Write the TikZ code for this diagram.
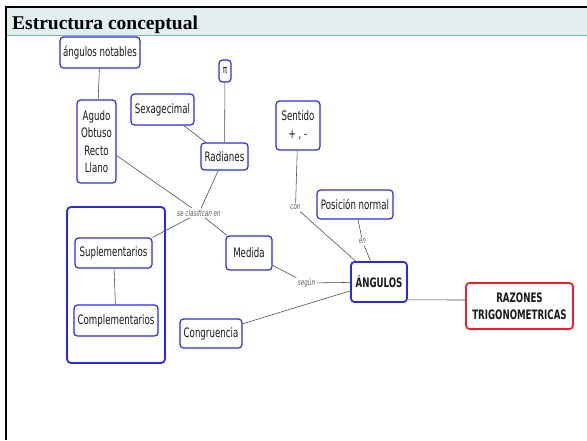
\documentclass[tikz,border=0pt]{standalone}
\usepackage{fontspec}
\setmainfont{Liberation Serif}
\newfontfamily\mapfont{DejaVu Sans Condensed}[FakeStretch=0.74]
\definecolor{mapblue}{RGB}{40,40,240}
\definecolor{mapred}{RGB}{240,30,40}
\definecolor{headfill}{RGB}{226,239,238}
\definecolor{headline}{RGB}{125,180,172}
\definecolor{linkgray}{RGB}{70,70,70}
\definecolor{textgray}{RGB}{25,25,25}
\tikzset{
  concept/.style={draw=mapblue, line width=1.2pt, rounded corners=3.5pt, fill=white,
    font=\mapfont\fontsize{13}{17.5}\selectfont, text=textgray, align=center,
    inner sep=0pt, anchor=center},
  keyconcept/.style={concept, line width=1.8pt, font=\mapfont\bfseries\fontsize{13}{17}\selectfont},
  redconcept/.style={keyconcept, draw=mapred},
  linkword/.style={font=\mapfont\itshape\fontsize{8.5}{9}\selectfont, text=linkgray!90, inner sep=1.5pt},
  link/.style={draw=linkgray, line width=0.55pt},
}
\begin{document}
\begin{tikzpicture}[x=1pt, y=-1pt]
\useasboundingbox (0,0) rectangle (587,440);
% header band and frame
\fill[headfill] (6,7) rectangle (587,35);
\draw[headline, line width=0.8pt] (6,35) -- (587,35);
\draw[black, line width=2pt] (6,440) -- (6,7) -- (587,7);
\node[anchor=base west, font=\bfseries\fontsize{19.5}{22}\selectfont, inner sep=0pt] (title) at (12,29) {Estructura conceptual};

% group box around the two complementary kinds
\node[draw=mapblue, line width=1.8pt, rounded corners=4pt, minimum width=98pt, minimum height=156pt, inner sep=0pt] (group) at (116,285) {};

% concepts
\node[concept, minimum width=80pt, minimum height=31pt] (notables) at (100,52.5) {ángulos notables};
\node[concept, minimum width=12pt, minimum height=22pt, font=\mapfont\fontsize{11}{13}\selectfont] (pi) at (225,71) {π};
\node[concept, minimum width=39pt, minimum height=83pt] (tipos) at (96.5,141.5) {Agudo\\Obtuso\\Recto\\Llano};
\node[concept, minimum width=63pt, minimum height=31pt] (sexa) at (162.5,109.5) {Sexagecimal};
\node[concept, minimum width=47pt, minimum height=27pt] (radianes) at (224.5,156.5) {Radianes};
\node[concept, minimum width=44pt, minimum height=49pt] (sentido) at (298,125.5) {Sentido\\+ , -};
\node[concept, minimum width=76pt, minimum height=29pt] (posicion) at (355,204.5) {Posición normal};
\node[concept, minimum width=77pt, minimum height=30pt] (supl) at (113.5,253) {Suplementarios};
\node[concept, minimum width=84pt, minimum height=31pt] (compl) at (116,320.5) {Complementarios};
\node[concept, minimum width=46pt, minimum height=34pt] (medida) at (249,253) {Medida};
\node[concept, minimum width=62pt, minimum height=29pt] (congr) at (211,333.5) {Congruencia};
\node[keyconcept, minimum width=56pt, minimum height=40pt] (angulos) at (379,282) {ÁNGULOS};
\node[redconcept, minimum width=107pt, minimum height=46pt] (razones) at (519.5,306) {RAZONES\\TRIGONOMETRICAS};

% linking words
\node[linkword] (clas) at (199,213) {se clasifican en};
\node[linkword] (con) at (295.5,207.5) {con};
\node[linkword] (en) at (362.5,241.5) {en};
\node[linkword] (segun) at (306.5,283) {según};

% connectors
\draw[link] (notables) -- (tipos);
\draw[link] (pi) -- (radianes);
\draw[link] (sexa) -- (radianes);
\draw[link] (tipos) -- (clas);
\draw[link] (radianes) -- (clas);
\draw[link] (clas) -- (medida);
\draw[link] (clas) -- (supl.north east);
\draw[link] (supl) -- (compl);
\draw[link] (sentido) -- (con);
\draw[link] (con) -- (angulos);
\draw[link] (posicion) -- (en);
\draw[link] (en) -- (angulos);
\draw[link] (medida) -- (segun);
\draw[link] (segun) -- (angulos);
\draw[link] (congr) -- (angulos);
\draw[link] ([yshift=3pt]angulos.south east) -- ([yshift=6pt]razones.west);
\end{tikzpicture}
\end{document}
